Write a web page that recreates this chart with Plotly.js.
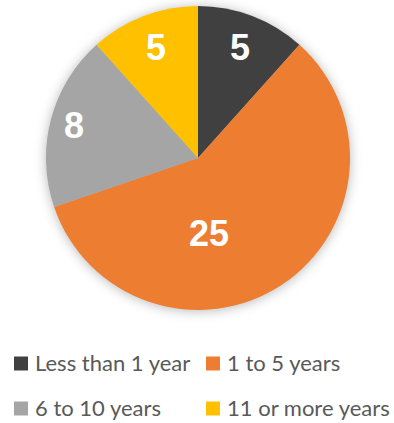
<!DOCTYPE html>
<html>
<head>
<meta charset="utf-8">
<script src="https://cdn.plot.ly/plotly-3.0.1.min.js"></script>
<style>
html,body{margin:0;padding:0;background:#fff;}
#chart{width:394px;height:423px;}
.pielayer{filter:drop-shadow(0 1px 6px rgba(0,0,0,0.28));}
</style>
</head>
<body>
<div id="chart"></div>
<script>
// ---- data ----
const categories = ["Less than 1 year", "1 to 5 years", "6 to 10 years", "11 or more years"];
const values = [5, 25, 8, 5];
const colors = ["#404040", "#ED7D31", "#A5A5A5", "#FFC000"];

// ---- layout constants (pixels) ----
const W = 394, H = 423;
const CX = 198, CY = 158, R = 152;
// data-label placement (fraction of radius, angular nudge in degrees)
const labelRadius = [0.78, 0.5, 0.84, 0.78];
const labelNudge = [0, 25, 0, 0];
// legend grid
const legCols = [14, 206];
const legRows = [363.5, 408.5];
const legBox = 14, legTextGap = 5;

const trace = {
  type: "pie",
  labels: categories,
  values: values,
  sort: false,
  direction: "clockwise",
  rotation: 0,
  marker: {colors: colors, line: {width: 0}},
  textinfo: "none",
  domain: {x: [(CX - R) / W, (CX + R) / W], y: [(H - CY - R) / H, (H - CY + R) / H]},
  hoverinfo: "label+value",
  showlegend: false
};

const total = values.reduce((a, b) => a + b, 0);
const annotations = [];
const shapes = [];
let cum = 0;
values.forEach((v, i) => {
  const mid = ((cum + v / 2) / total) * 360 + labelNudge[i];
  cum += v;
  const th = mid * Math.PI / 180;
  const px = CX + labelRadius[i] * R * Math.sin(th);
  const py = CY - labelRadius[i] * R * Math.cos(th);
  annotations.push({
    xref: "paper", yref: "paper",
    x: px / W, y: (H - py) / H,
    xanchor: "center", yanchor: "middle",
    showarrow: false,
    text: String(v),
    font: {family: "Liberation Sans, Arial, sans-serif", size: 36, color: "#ffffff", weight: "bold"}
  });
});

categories.forEach((c, i) => {
  const col = legCols[i % 2];
  const row = legRows[Math.floor(i / 2)];
  shapes.push({
    type: "rect", xref: "paper", yref: "paper",
    x0: col / W, x1: (col + legBox) / W,
    y0: (H - row - legBox / 2) / H, y1: (H - row + legBox / 2) / H,
    fillcolor: colors[i], line: {width: 0}
  });
  annotations.push({
    xref: "paper", yref: "paper",
    x: (col + legBox + legTextGap) / W, y: (H - row + 1) / H,
    xanchor: "left", yanchor: "middle",
    showarrow: false,
    text: c,
    font: {family: "Lato, sans-serif", size: 22, color: "#595959"}
  });
});

const layout = {
  width: W,
  height: H,
  margin: {l: 0, r: 0, t: 0, b: 0, autoexpand: false},
  paper_bgcolor: "#ffffff",
  showlegend: false,
  annotations: annotations,
  shapes: shapes
};

Plotly.newPlot("chart", [trace], layout, {staticPlot: true});
</script>
</body>
</html>
